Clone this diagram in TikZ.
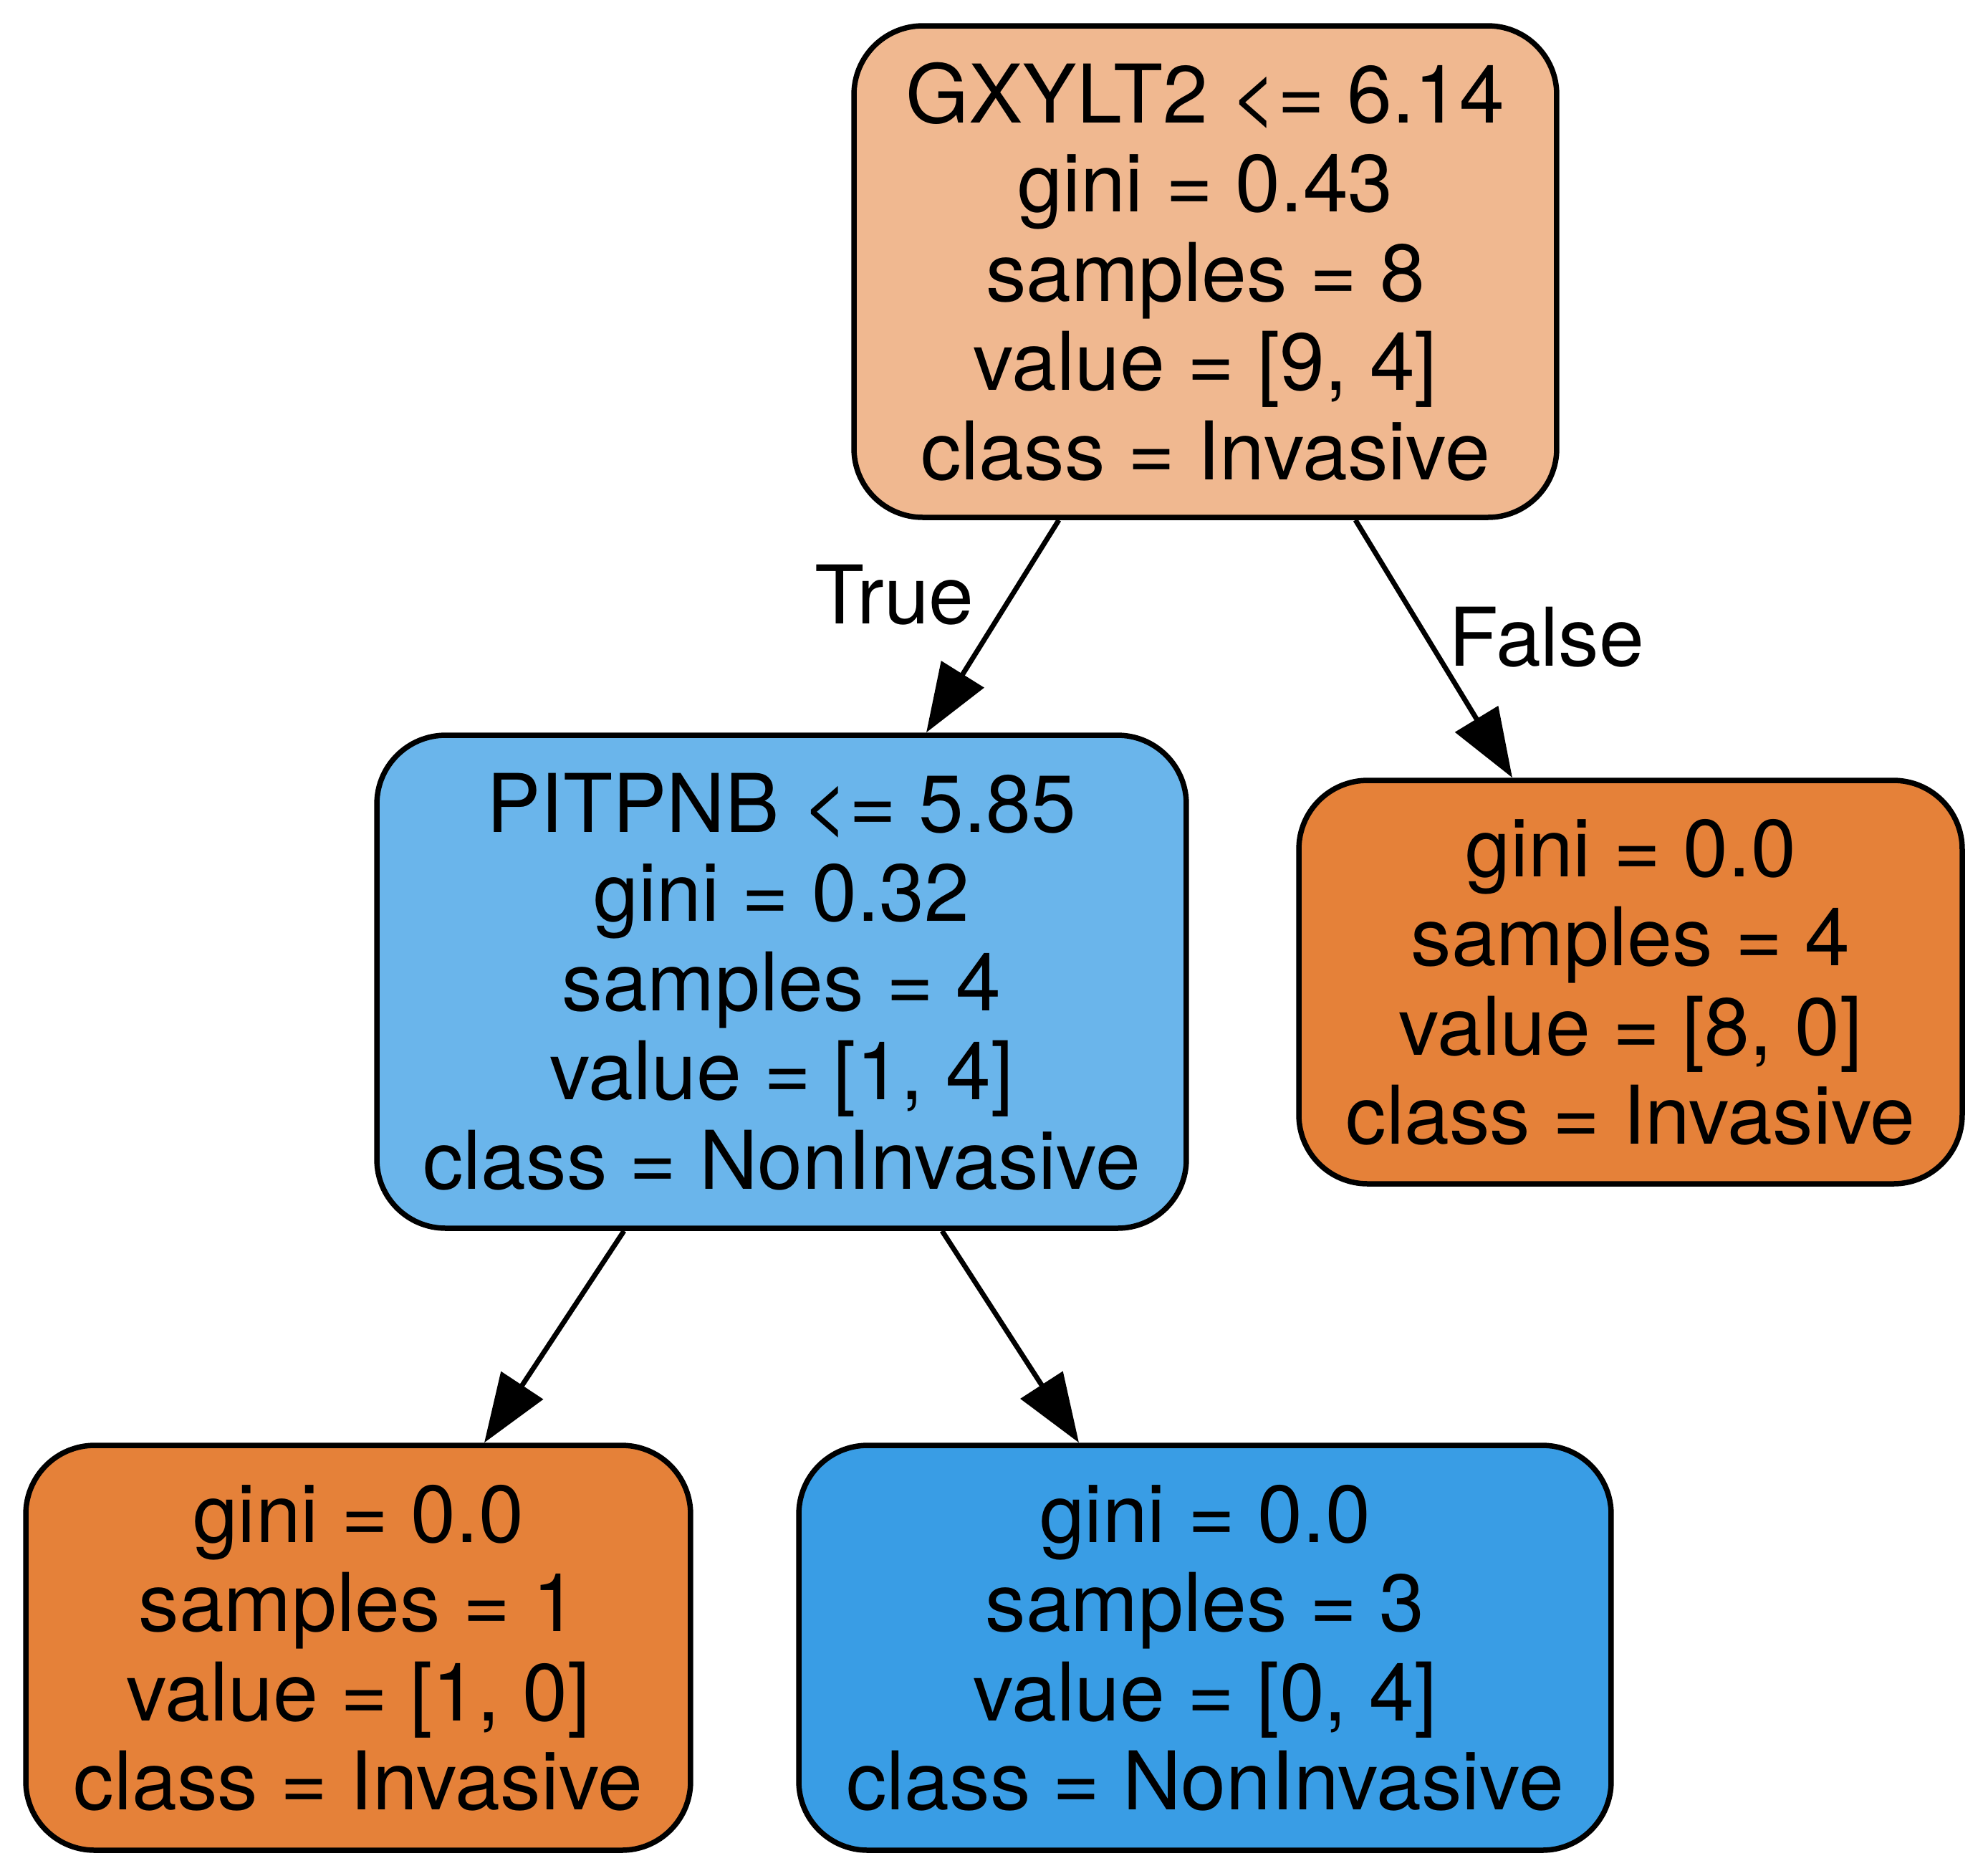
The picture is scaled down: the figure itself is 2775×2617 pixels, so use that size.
\documentclass[tikz,border=0pt]{standalone}
\usepackage{fontspec}
\setmainfont{TeX Gyre Heros}
\usetikzlibrary{arrows.meta,calc}
\definecolor{rootc}{HTML}{F0B890}
\definecolor{pitc}{HTML}{6AB5EB}
\definecolor{orc}{HTML}{E58139}
\definecolor{blc}{HTML}{399DE5}
\begin{document}
\begin{tikzpicture}[x=0.1pt,y=-0.1pt,
  tree/.style={draw=black, line width=0.75pt, rounded corners=9.6pt, inner sep=0pt,
    align=center, font=\fontsize{11.3pt}{12.45pt}\selectfont},
  edge/.style={line width=0.7pt, -{Triangle[length=9.6pt,width=6.9pt]}},
  lbl/.style={anchor=base, inner sep=0pt, font=\fontsize{11.3pt}{12.45pt}\selectfont}]
\useasboundingbox (0,0) rectangle (2775,2617);
\node[tree, fill=rootc, minimum width=98.1pt, minimum height=68.6pt] (root) at (1682.5,379)
  {GXYLT2 <= 6.14\\gini = 0.43\\samples = 8\\value = [9, 4]\\class = Invasive};
\node[tree, fill=pitc, minimum width=113.0pt, minimum height=68.8pt] (pit) at (1091,1370)
  {PITPNB <= 5.85\\gini = 0.32\\samples = 4\\value = [1, 4]\\class = NonInvasive};
\node[tree, fill=orc, minimum width=92.6pt, minimum height=56.3pt] (rleaf) at (2276,1370.5)
  {gini = 0.0\\samples = 4\\value = [8, 0]\\class = Invasive};
\node[tree, fill=orc, minimum width=92.8pt, minimum height=56.5pt] (leafa) at (500,2299.5)
  {gini = 0.0\\samples = 1\\value = [1, 0]\\class = Invasive};
\node[tree, fill=blc, minimum width=113.4pt, minimum height=56.5pt] (leafb) at (1682,2299.5)
  {gini = 0.0\\samples = 3\\value = [0, 4]\\class = NonInvasive};
\draw[edge] ($(root.south)+(-204.5,0)$) -- ($(pit.north)+(202,0)$);
\draw[edge] ($(root.south)+(209.5,0)$) -- ($(rleaf.north)+(-165,0)$);
\draw[edge] ($(pit.south)+(-220,0)$) -- ($(leafa.north)+(176,0)$);
\draw[edge] ($(pit.south)+(224,0)$) -- ($(leafb.north)+(-176,0)$);
\node[lbl] (ltrue) at (1248.5,870) {True};
\node[lbl] (lfalse) at (2159,929) {False};
\end{tikzpicture}
\end{document}
